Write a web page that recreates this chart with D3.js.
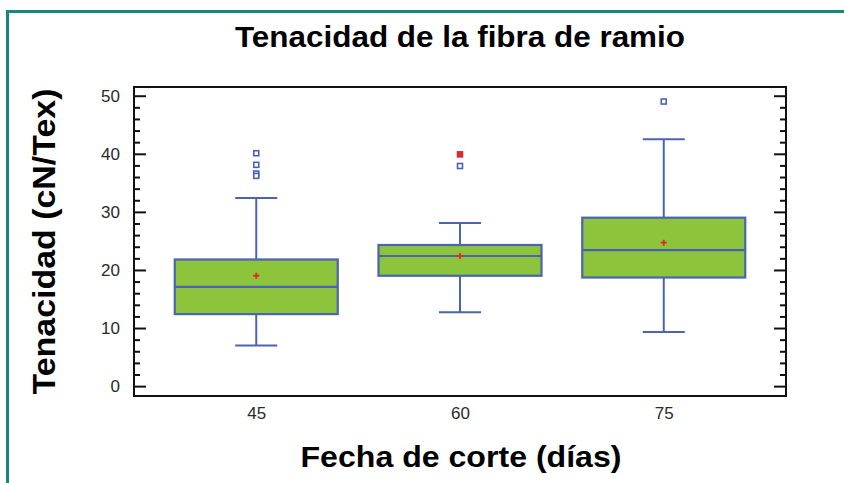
<!DOCTYPE html>
<html>
<head>
<meta charset="utf-8">
<script src="https://cdn.jsdelivr.net/npm/d3@7/dist/d3.min.js"></script>
<style>
  html, body { margin: 0; padding: 0; background: #fff; }
  svg { display: block; }
</style>
</head>
<body>
<svg id="chart" width="844" height="483"></svg>
<script>
// Cutting date groups and box-plot summaries of fibre tenacity (cN/Tex)
const categories   = ["45", "60", "75"];
const q1Values     = [12.4, 19.0, 18.7];
const medianValues = [17.1, 22.4, 23.4];
const q3Values     = [21.8, 24.3, 29.0];
const whiskerLow   = [7.0, 12.7, 9.3];
const whiskerHigh  = [32.4, 28.1, 42.5];
const meanValues   = [19.0, 22.4, 24.7];
const outsidePts   = [[40.1, 38.1, 36.6, 36.2], [37.9], [49.0]];
const farOutside   = [[], [39.9], []];
const yTickValues  = [0, 10, 20, 30, 40, 50];

const svg = d3.select("#chart");
const W = 844, H = 483;
const plot = { left: 134, right: 786, top: 87, bottom: 396 };
const FONT = "Liberation Sans, Arial, sans-serif";

// frame accent lines
svg.append("line").attr("x1", 7).attr("x2", W).attr("y1", 11.5).attr("y2", 11.5)
  .attr("stroke", "#16877f").attr("stroke-width", 3);
svg.append("line").attr("x1", 7.5).attr("x2", 7.5).attr("y1", 10).attr("y2", H)
  .attr("stroke", "#16877f").attr("stroke-width", 3);

const x = d3.scalePoint().domain(categories).range([plot.left, plot.right]).padding(0.6);
const y = d3.scaleLinear().domain([-1.7, 51.5]).range([plot.bottom, plot.top]);
const boxW = x.step() * 0.8;
const capW = 42;

const boxColor = "#4a63b3";
const fillColor = "#8cc43c";

// title
svg.append("text").attr("x", 460).attr("y", 47).attr("text-anchor", "middle")
  .attr("font-family", FONT).attr("font-weight", "bold")
  .attr("font-size", 30).attr("textLength", 450).attr("lengthAdjust", "spacingAndGlyphs")
  .attr("fill", "#000").text("Tenacidad de la fibra de ramio");

// axis titles
svg.append("text").attr("transform", `translate(55,241.5) rotate(-90)`)
  .attr("text-anchor", "middle")
  .attr("font-family", FONT).attr("font-weight", "bold")
  .attr("font-size", 31).attr("textLength", 306).attr("lengthAdjust", "spacingAndGlyphs")
  .attr("fill", "#000").text("Tenacidad (cN/Tex)");
svg.append("text").attr("x", 461).attr("y", 467).attr("text-anchor", "middle")
  .attr("font-family", FONT).attr("font-weight", "bold")
  .attr("font-size", 30).attr("textLength", 321).attr("lengthAdjust", "spacingAndGlyphs")
  .attr("fill", "#000").text("Fecha de corte (días)");

// y axis: labels, major and minor ticks pointing inward on both sides
const minorTicks = d3.range(0, 52, 2).filter(v => v % 10 !== 0);
const leftAxis = svg.append("g").attr("transform", `translate(${plot.left},0)`)
  .call(d3.axisRight(y).tickValues(yTickValues).tickSize(12).tickFormat(""));
const leftMinor = svg.append("g").attr("transform", `translate(${plot.left},0)`)
  .call(d3.axisRight(y).tickValues(minorTicks).tickSize(6).tickFormat(""));
const rightAxis = svg.append("g").attr("transform", `translate(${plot.right},0)`)
  .call(d3.axisLeft(y).tickValues(yTickValues).tickSize(12).tickFormat(""));
const rightMinor = svg.append("g").attr("transform", `translate(${plot.right},0)`)
  .call(d3.axisLeft(y).tickValues(minorTicks).tickSize(6).tickFormat(""));
[leftAxis, leftMinor, rightAxis, rightMinor].forEach(g => {
  g.select(".domain").remove();
  g.selectAll("line").attr("stroke", "#111").attr("stroke-width", 2);
});

svg.append("g").selectAll("text").data(yTickValues).join("text")
  .attr("x", 120).attr("y", d => y(d)).attr("dy", "0.36em").attr("text-anchor", "end")
  .attr("font-family", FONT).attr("font-size", 17)
  .attr("fill", "#2a2a2a").text(d => d);

// x axis labels
const xAxis = svg.append("g").attr("transform", `translate(0,${plot.bottom})`)
  .call(d3.axisBottom(x).tickSize(0).tickPadding(11));
xAxis.select(".domain").remove();
xAxis.selectAll("text").attr("font-family", FONT)
  .attr("font-size", 17).attr("fill", "#2a2a2a");

// boxes
const groups = svg.append("g").selectAll("g").data(categories).join("g");
groups.each(function (cat, i) {
  const g = d3.select(this);
  const cx = x(cat);
  // whiskers
  g.append("line").attr("x1", cx).attr("x2", cx).attr("y1", y(q3Values[i])).attr("y2", y(whiskerHigh[i]))
    .attr("stroke", boxColor).attr("stroke-width", 2);
  g.append("line").attr("x1", cx).attr("x2", cx).attr("y1", y(q1Values[i])).attr("y2", y(whiskerLow[i]))
    .attr("stroke", boxColor).attr("stroke-width", 2);
  [whiskerHigh[i], whiskerLow[i]].forEach(v => {
    g.append("line").attr("x1", cx - capW / 2).attr("x2", cx + capW / 2).attr("y1", y(v)).attr("y2", y(v))
      .attr("stroke", boxColor).attr("stroke-width", 2);
  });
  // box
  g.append("rect").attr("x", cx - boxW / 2).attr("width", boxW)
    .attr("y", y(q3Values[i])).attr("height", y(q1Values[i]) - y(q3Values[i]))
    .attr("fill", fillColor).attr("stroke", boxColor).attr("stroke-width", 2.2);
  g.append("line").attr("x1", cx - boxW / 2).attr("x2", cx + boxW / 2)
    .attr("y1", y(medianValues[i])).attr("y2", y(medianValues[i]))
    .attr("stroke", boxColor).attr("stroke-width", 2.2);
  // mean marker
  const my = y(meanValues[i]);
  g.append("path").attr("d", `M${cx - 3},${my}H${cx + 3}M${cx},${my - 3}V${my + 3}`)
    .attr("stroke", "#e8262a").attr("stroke-width", 1.8);
  // outside points
  outsidePts[i].forEach(v => {
    g.append("rect").attr("x", cx - 2.5).attr("y", y(v) - 2.5).attr("width", 5).attr("height", 5)
      .attr("fill", "#fff").attr("stroke", boxColor).attr("stroke-width", 1.6);
  });
  farOutside[i].forEach(v => {
    g.append("rect").attr("x", cx - 2.5).attr("y", y(v) - 2.5).attr("width", 5).attr("height", 5)
      .attr("fill", "#e8262a").attr("stroke", "#d42a3a").attr("stroke-width", 1.6);
  });
});

// plot frame
svg.append("rect").attr("x", plot.left).attr("y", plot.top)
  .attr("width", plot.right - plot.left).attr("height", plot.bottom - plot.top)
  .attr("fill", "none").attr("stroke", "#111").attr("stroke-width", 2);
</script>
</body>
</html>
